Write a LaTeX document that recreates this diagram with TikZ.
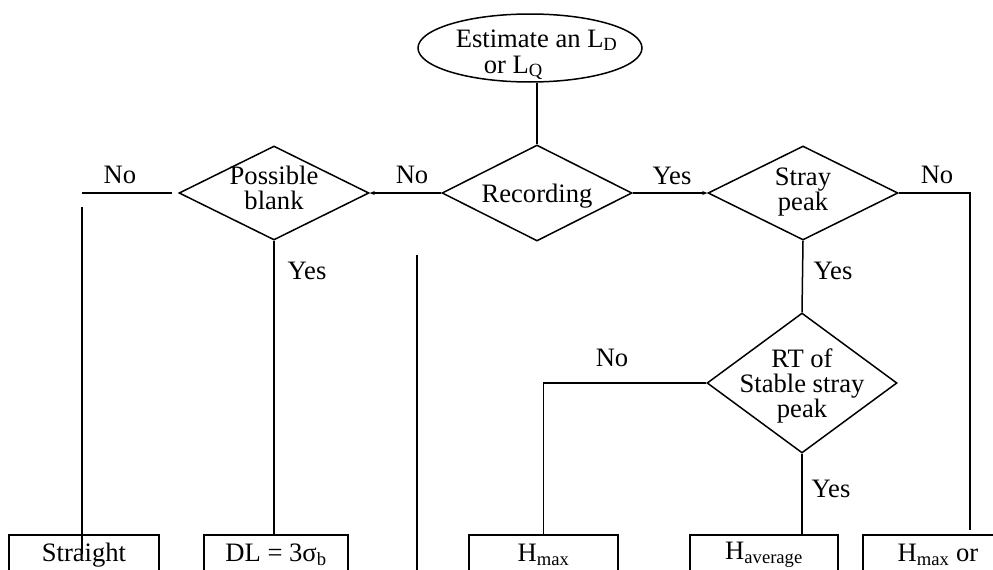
\documentclass[tikz,border=0pt]{standalone}
\usepackage{fontspec}
\setmainfont{Liberation Serif}
\usetikzlibrary{shapes.geometric,arrows.meta,positioning}

\tikzset{
  decision/.style={draw, diamond, inner sep=0pt, minimum width=190pt, minimum height=94pt},
  result/.style={draw, rectangle, anchor=north, minimum height=40pt, inner sep=0pt},
  answer/.style={inner sep=0pt},
  flow/.style={-{Stealth[length=5pt,width=4pt]}},
}

\begin{document}
\begin{tikzpicture}[x=1pt, y=-1pt, line width=1.5pt, font=\fontsize{26.6}{25}\selectfont]
	\useasboundingbox (0,0) rectangle (993,570);
	\clip (0,0) rectangle (993,570);

	% Start
	\node[draw, ellipse, minimum width=224pt, minimum height=68pt, inner sep=0pt] (est) at (530,48) {};
	\node[anchor=base west, inner sep=0pt] (esta) at (455,47) {Estimate an L\textsubscript{D}};
	\node[anchor=base west, inner sep=0pt] (estb) at (483,73) {or L\textsubscript{Q}};

	% Decisions
	\node[decision] (pb) at (274,193) {};
	\node[decision, minimum height=96pt] (rec) at (537,193) {};
	\node[decision] (sp) at (803,193) {};
	\node[decision, minimum height=140pt] (rt) at (802,383) {};
	\node[align=center, inner sep=0pt] (pbtxt) at (274,188) {Possible\\blank};
	\node[inner sep=0pt] (rectxt) at (537,196) {Recording};
	\node[align=center, inner sep=0pt] (sptxt) at (803,192) {Stray\\peak};
	\node[align=center, inner sep=0pt] (rttxt) at (802,386) {RT of\\Stable stray\\peak};

	% Results
	\node[result, minimum width=150pt] (str) at (84,534) {Straight};
	\node[result, minimum width=144pt] (dl) at (276,534) {DL = 3σ\textsubscript{b}};
	\node[result, minimum width=149pt] (hmax) at (543.5,534) {H\textsubscript{max}};
	\node[result, minimum width=148pt] (have) at (764,534) {H\textsubscript{average}};
	\node[result, minimum width=150pt] (hmor) at (938,534) {H\textsubscript{max} or};

	% Free ends
	\coordinate (noend) at (82,193);
	\coordinate (lefttop) at (82,207);
	\coordinate (leftbot) at (82,554);
	\coordinate (midtop) at (417,255);
	\coordinate (midbot) at (417,580);
	\coordinate (spturn) at (970,193);
	\coordinate (spend) at (970,530);

	% Edges
	\draw (est.south -| rec.north) -- (rec.north);
	\draw[flow] (rec.west) -- (pb.east);
	\draw[flow] (rec.east) -- (sp.west);
	\draw[shorten <=6pt] (pb.west) -- (noend);
	\draw (lefttop) -- (leftbot);
	\draw (pb.south) -- (pb.south |- dl.north);
	\draw (midtop) -- (midbot);
	\draw (sp.east) -- (spturn) -- (spend);
	\draw (sp.south) -- (rt.north);
	\draw (rt.west) -| (hmax.north);
	\draw (rt.south) -- (rt.south |- have.north);

	% Edge labels
	\node[answer] (nopb) at (120,175) {No};
	\node[answer] (norec) at (412,175) {No};
	\node[answer] (yesrec) at (672,176) {Yes};
	\node[answer] (nosp) at (937,175) {No};
	\node[answer] (yespb) at (307,271) {Yes};
	\node[answer] (yessp) at (833,271) {Yes};
	\node[answer] (nort) at (612,358) {No};
	\node[answer] (yesrt) at (831,489) {Yes};
\end{tikzpicture}
\end{document}
